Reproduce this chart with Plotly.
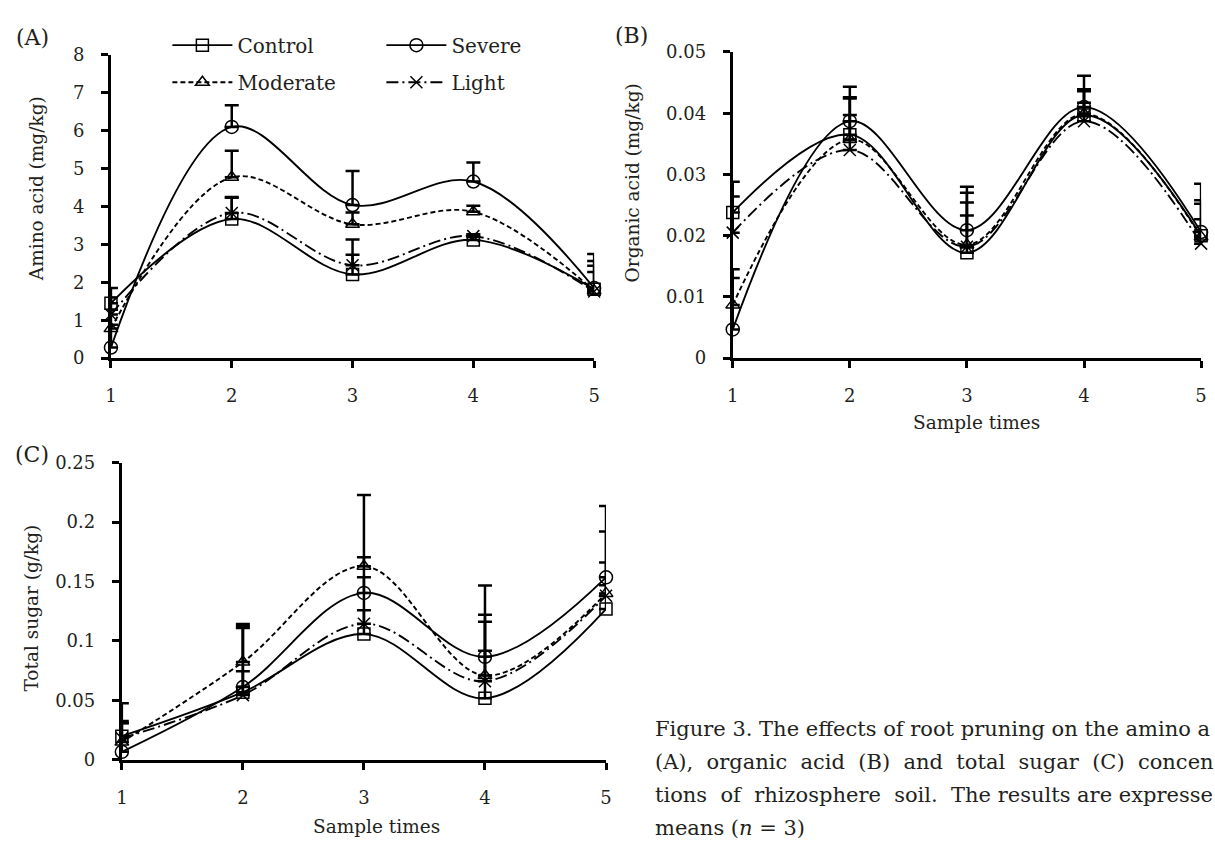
import plotly.graph_objects as go

# ---------------- data ----------------
sample_times = [1, 2, 3, 4, 5]
series_names = ["Control", "Severe", "Moderate", "Light"]

# (A) Amino acid (mg/kg)
amino_control = [1.45, 3.67, 2.21, 3.12, 1.82]
amino_severe = [0.28, 6.10, 4.04, 4.66, 1.85]
amino_moderate = [0.78, 4.77, 3.53, 3.86, 1.78]
amino_light = [1.15, 3.83, 2.45, 3.22, 1.76]
amino_control_err = [0.40, 0.58, 0.52, 0.08, 0.45]
amino_severe_err = [0.60, 0.57, 0.90, 0.50, 0.90]
amino_moderate_err = [0.50, 0.70, 0.31, 0.16, 0.66]
amino_light_err = [0.45, 0.40, 0.68, 0.05, 0.80]

# (B) Organic acid (mg/kg)
organic_control = [0.0238, 0.0365, 0.0172, 0.0397, 0.0200]
organic_severe = [0.0047, 0.0387, 0.0209, 0.0410, 0.0206]
organic_moderate = [0.0087, 0.0357, 0.0185, 0.0399, 0.0198]
organic_light = [0.0205, 0.0340, 0.0182, 0.0387, 0.0187]
organic_control_err = [0.0050, 0.0061, 0.0098, 0.0042, 0.0058]
organic_severe_err = [0.0084, 0.0056, 0.0071, 0.0051, 0.0079]
organic_moderate_err = [0.0058, 0.0067, 0.0069, 0.0037, 0.0054]
organic_light_err = [0.0059, 0.0057, 0.0051, 0.0030, 0.0040]

# (C) Total sugar (g/kg)
sugar_control = [0.0200, 0.0570, 0.1058, 0.0518, 0.1268]
sugar_severe = [0.0068, 0.0613, 0.1404, 0.0867, 0.1535]
sugar_moderate = [0.0150, 0.0823, 0.1628, 0.0710, 0.1400]
sugar_light = [0.0183, 0.0545, 0.1145, 0.0662, 0.1380]
sugar_control_err = [0.0277, 0.0540, 0.0200, 0.0400, 0.0200]
sugar_severe_err = [0.0260, 0.0510, 0.0300, 0.0600, 0.0600]
sugar_moderate_err = [0.0160, 0.0320, 0.0600, 0.0510, 0.0520]
sugar_light_err = [0.0125, 0.0200, 0.0390, 0.0500, 0.0280]

amino_ticks = [0, 1, 2, 3, 4, 5, 6, 7, 8]
organic_ticks = [0, 0.01, 0.02, 0.03, 0.04, 0.05]
organic_ticklabels = ["0", "0.01", "0.02", "0.03", "0.04", "0.05"]
sugar_ticks = [0, 0.05, 0.1, 0.15, 0.2, 0.25]
sugar_ticklabels = ["0", "0.05", "0.1", "0.15", "0.2", "0.25"]

# caption as visible in the (cropped) reference figure
caption_lines = [
    "Figure 3. The effects of root pruning on the amino a",
    "(A), organic acid (B) and total sugar (C) concen",
    "tions of rhizosphere soil. The results are expresse",
    "means (<i>n</i> = 3)",
]
# words of each line that get extra (justified) spacing after them
caption_wide_gaps = [
    [],
    ["(A),", "organic", "acid", "(B)", "and", "total", "sugar", "(C)"],
    ["tions", "of", "rhizosphere", "soil."],
    [],
]

# ---------------- styles ----------------
FONT = "DejaVu Serif"
TXT = "#231f20"
W, H = 1215, 847
styles = {
    "Control": dict(dash="solid", symbol="square-open", size=12),
    "Severe": dict(dash="solid", symbol="circle-open", size=13),
    "Moderate": dict(dash="5px,3px", symbol="triangle-up-open", size=12),
    "Light": dict(dash="12px,4px,2px,4px", symbol="x-thin-open", size=12),
}

panels = [
    ("x", "y", [amino_control, amino_severe, amino_moderate, amino_light],
     [amino_control_err, amino_severe_err, amino_moderate_err, amino_light_err]),
    ("x2", "y2", [organic_control, organic_severe, organic_moderate, organic_light],
     [organic_control_err, organic_severe_err, organic_moderate_err, organic_light_err]),
    ("x3", "y3", [sugar_control, sugar_severe, sugar_moderate, sugar_light],
     [sugar_control_err, sugar_severe_err, sugar_moderate_err, sugar_light_err]),
]

fig = go.Figure()
for pi, (xa, ya, vals, errs) in enumerate(panels):
    for name, v, e in zip(series_names, vals, errs):
        st = styles[name]
        legend = "legend" if name in ("Control", "Severe") else "legend2"
        fig.add_trace(go.Scatter(
            x=sample_times, y=v, name=name, xaxis=xa, yaxis=ya,
            mode="lines+markers",
            line=dict(color="black", width=1.9, dash=st["dash"], shape="spline", smoothing=1.0),
            marker=dict(symbol=st["symbol"], size=st["size"], color="black",
                        line=dict(color="black", width=1.5)),
            error_y=dict(type="data", array=e, arrayminus=[0] * len(e), symmetric=False,
                         color="black", thickness=2.5, width=7),
            showlegend=(pi == 0), legend=legend, cliponaxis=False,
        ))


def px_x(p):
    return p / W


def px_y(p):
    return 1 - p / H


def axis_style(is_x):
    return dict(showline=True, linecolor="black", linewidth=3, ticks="outside",
                ticklen=7, tickwidth=2.5, tickcolor="black", showgrid=False, zeroline=False,
                ticklabelstandoff=12 if is_x else 13,
                tickfont=dict(family=FONT, size=18, color=TXT))


legend_common = dict(orientation="h", yanchor="middle", xanchor="left",
                     entrywidth=139, itemwidth=60, bgcolor="rgba(0,0,0,0)",
                     font=dict(family=FONT, size=20, color=TXT), traceorder="normal")

fig.update_layout(
    width=W, height=H, margin=dict(l=0, r=0, t=0, b=0),
    paper_bgcolor="white", plot_bgcolor="white",
    font=dict(family=FONT, size=18, color=TXT),
    xaxis=dict(domain=[px_x(106), px_x(594)], range=[1, 5], tickvals=sample_times,
               anchor="y", **axis_style(True)),
    yaxis=dict(domain=[px_y(356), px_y(45)], range=[0, 8], tickvals=amino_ticks,
               anchor="x", **axis_style(False)),
    xaxis2=dict(domain=[px_x(734), px_x(1207)], range=[1, 5], tickvals=sample_times,
                anchor="y2", **axis_style(True)),
    yaxis2=dict(domain=[px_y(356), px_y(42)], range=[0, 0.05], tickvals=organic_ticks,
                ticktext=organic_ticklabels, anchor="x2", **axis_style(False)),
    xaxis3=dict(domain=[px_x(117), px_x(606)], range=[1, 5], tickvals=sample_times,
                anchor="y3", **axis_style(True)),
    yaxis3=dict(domain=[px_y(768), px_y(463)], range=[0, 0.25], tickvals=sugar_ticks,
                ticktext=sugar_ticklabels, anchor="x3", **axis_style(False)),
    legend=dict(x=px_x(163), y=px_y(35), **legend_common),
    legend2=dict(x=px_x(163), y=px_y(73), **legend_common),
)

title_font = dict(family=FONT, size=18.5, color=TXT)
label_font = dict(family=FONT, size=22, color=TXT)
annos = [
    dict(text="(A)", x=px_x(8), y=px_y(27), xanchor="left", yanchor="middle", font=label_font),
    dict(text="(B)", x=px_x(613), y=px_y(25), xanchor="left", yanchor="middle", font=label_font),
    dict(text="(C)", x=px_x(7), y=px_y(455), xanchor="left", yanchor="middle", font=label_font),
    dict(text="Amino acid (mg/kg)", x=px_x(31), y=px_y(182), textangle=-90,
         xanchor="center", yanchor="middle", font=title_font),
    dict(text="Organic acid (mg/kg)", x=px_x(633), y=px_y(176), textangle=-90,
         xanchor="center", yanchor="middle", font=title_font),
    dict(text="Total sugar (g/kg)", x=px_x(26), y=px_y(612), textangle=-90,
         xanchor="center", yanchor="middle", font=title_font),
    dict(text="Sample times", x=px_x(980), y=px_y(422), xanchor="center", yanchor="middle",
         font=title_font),
    dict(text="Sample times", x=px_x(374), y=px_y(836), xanchor="center", yanchor="middle",
         font=title_font),
]


def justify(line, wide):
    words = line.split(" ")
    out = []
    for i, w in enumerate(words):
        out.append(w)
        if i < len(words) - 1:
            out.append("\u00a0 " if w in wide else " ")
    return "".join(out)


caption_centers = [736, 770, 804, 838]
for line, wide, yc in zip(caption_lines, caption_wide_gaps, caption_centers):
    annos.append(dict(text=justify(line, wide), x=px_x(653), y=px_y(yc), xanchor="left",
                      yanchor="middle", align="left",
                      font=dict(family=FONT, size=21, color=TXT)))

for a in annos:
    fig.add_annotation(xref="paper", yref="paper", showarrow=False, **a)

fig.write_html("out.html")
